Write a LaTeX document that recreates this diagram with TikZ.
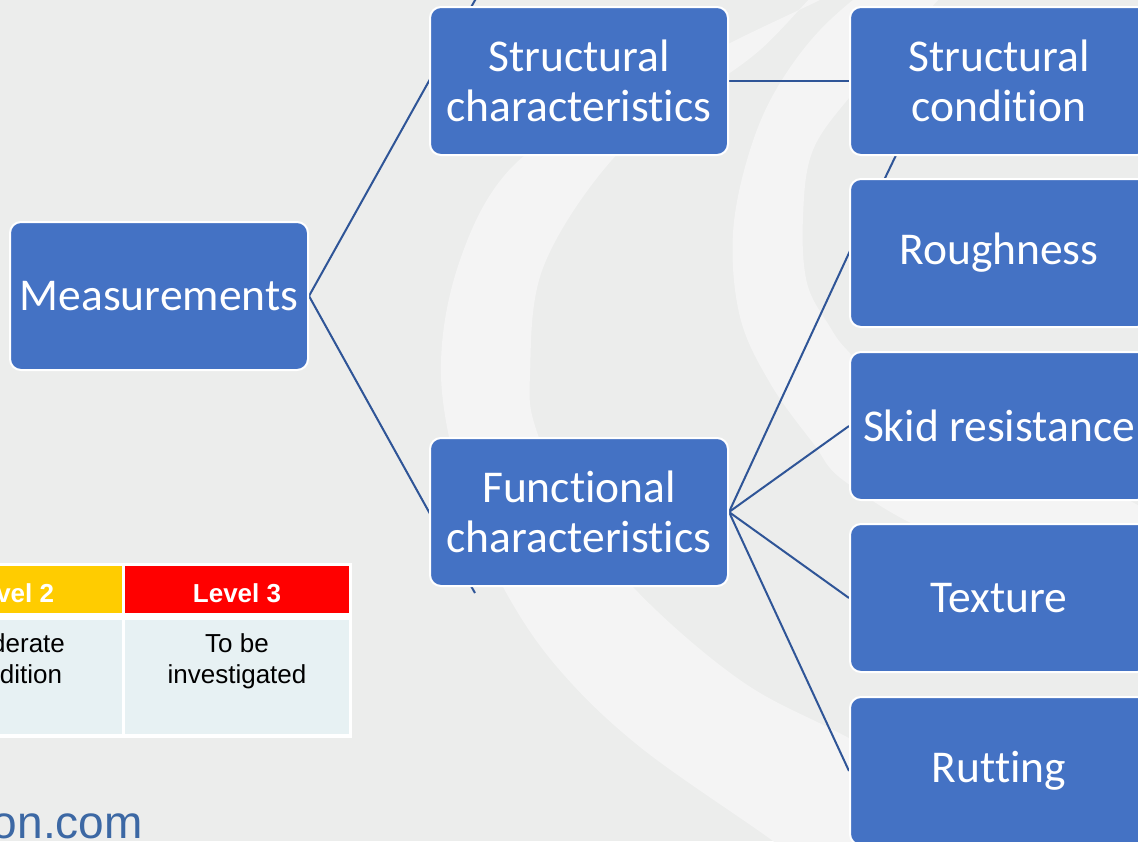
\documentclass[tikz,border=0pt]{standalone}
\usepackage{fontspec}
\setmainfont[Ligatures=NoCommon]{Carlito}
\newfontfamily\arialf{Liberation Sans}
\definecolor{bgcol}{RGB}{236,237,236}
\definecolor{bandcol}{RGB}{244,244,244}
\definecolor{boxblue}{RGB}{68,114,196}
\definecolor{linkblue}{RGB}{47,85,151}
\definecolor{lvgold}{RGB}{255,204,0}
\definecolor{lvred}{RGB}{255,0,0}
\definecolor{cellbg}{RGB}{231,241,243}
\definecolor{urlblue}{RGB}{60,104,164}
\pgfdeclarelayer{back}
\pgfsetlayers{back,main}
\begin{document}
\begin{tikzpicture}[x=1pt,y=-1pt,
  box/.style={rectangle, rounded corners=11pt, fill=boxblue, draw=white, line width=2pt,
    minimum width=298pt, minimum height=148pt, inner sep=0pt, text=white, align=center,
    font=\fontsize{45.5}{50}\selectfont},
  link/.style={draw=linkblue, line width=2pt},
  cellbox/.style={rectangle, inner sep=0pt, minimum width=224pt},
  celltext/.style={anchor=base, inner sep=0pt, font=\arialf\fontsize{26}{31}\selectfont},
  headtext/.style={anchor=base, inner sep=0pt, text=white, font=\arialf\bfseries\fontsize{26}{31}\selectfont},
]
\useasboundingbox (0,0) rectangle (1138,841);
\clip (0,0) rectangle (1138,841);

% main nodes
\node[box] (M)  at (159,296) {Measurements};
\node[box] (SC) at (579,81)  {Structural\\characteristics};
\node[box] (FC) at (579,512) {Functional\\characteristics};
\node[box] (R1) at (999,81)  {Structural\\condition};
\node[box] (R2) at (999,253) {Roughness};
\node[box] (R3) at (999,426) {Skid resistance};
\node[box] (R4) at (999,598) {Texture};
\node[box] (R5) at (999,771) {Rutting};

\coordinate (ext1) at (478,-5);
\coordinate (ext2) at (475,593);
\coordinate (ext3) at (898.5,150);

\begin{pgfonlayer}{back}
  \fill[bgcol] (0,0) rectangle (1138,841);
  % outer light band
  \fill[bandcol] plot[smooth cycle, tension=0.6] coordinates {
    (880,-30) (820,0) (730,43) (620,100) (514,165) (460,260) (441,375) (465,500)
    (503,587) (557,667) (640,747) (773,841) (820,880)
    (1100,880) (1000,818) (847,737) (740,680) (633,587) (570,500) (536,429)
    (530,375) (543,268) (611,161) (690,100) (760,50) (840,-30)};
  % inner light band
  \fill[bandcol] plot[smooth cycle, tension=0.6] coordinates {
    (900,-30) (830,20) (780,83) (750,150) (733,233) (740,317) (770,383)
    (813,443) (847,483) (950,540) (1160,600)
    (1160,520) (950,420) (880,380) (847,350) (830,327) (807,283) (803,217)
    (813,150) (853,93) (900,40) (960,-30)};

  % connectors
  \draw[link] (M.east) -- (SC.west) -- (ext1);
  \draw[link] (M.east) -- (FC.west) -- (ext2);
  \draw[link] (SC.east) -- (R1.west);
  \draw[link] (FC.east) -- (R2.west) -- (ext3);
  \draw[link] (FC.east) -- (R3.west);
  \draw[link] (FC.east) -- (R4.west);
  \draw[link] (FC.east) -- (R5.west);
\end{pgfonlayer}

% partial table
\fill[white] (-120,563) rectangle (352,738);
\node[cellbox, fill=lvgold, minimum height=47pt] (h2) at (10,589.5) {};
\node[cellbox, fill=lvred, minimum height=47pt] (h3) at (237,589.5) {};
\node[cellbox, fill=cellbg, minimum height=114pt] (b2) at (10,677) {};
\node[cellbox, fill=cellbg, minimum height=114pt] (b3) at (237,677) {};
\node[headtext] (h2t) at (10,602) {Level 2};
\node[headtext] (h3t) at (237,602) {Level 3};
\node[celltext] (b2a) at (10,652) {Moderate};
\node[celltext] (b2b) at (10,683) {condition};
\node[celltext] (b3a) at (237,652) {To be};
\node[celltext] (b3b) at (237,683) {investigated};

% url fragment
\node[anchor=base east, inner sep=0pt, text=urlblue, font=\arialf\fontsize{46}{50}\selectfont] (url) at (143,838) {on.com};
\end{tikzpicture}
\end{document}
